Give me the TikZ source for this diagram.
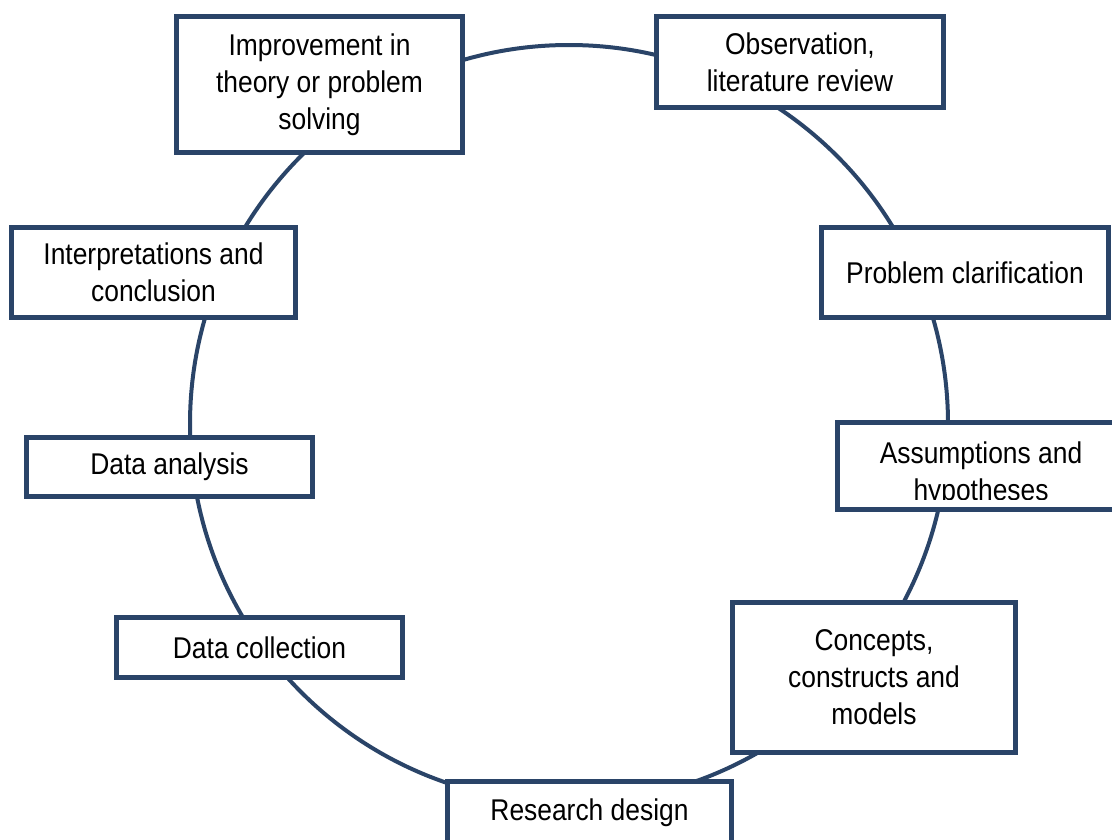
\documentclass[tikz,border=0pt]{standalone}
\usepackage{fontspec}
\setmainfont{Liberation Sans}[FakeStretch=0.88]
\usepackage{tikz}
\definecolor{boxblue}{RGB}{42,68,104}
\tikzset{
	stagebox/.style={draw=boxblue, line width=3.75pt, fill=white, inner sep=0pt, align=center,
		font=\fontsize{22.5}{27.75}\selectfont},
	cycleline/.style={draw=boxblue, line width=3pt}
}

\begin{document}
\begin{tikzpicture}[x=0.75pt, y=-0.75pt]
			%%%%% START %%%%%
			\useasboundingbox (0, 0) rectangle (1112, 839);
			
			\draw[cycleline] (569, 424) circle (379);
			
			\node[stagebox, minimum width=214.5pt, minimum height=102pt] (improve) at (319.5, 84.5) {Improvement in\\theory or problem\\solving};
			\node[stagebox, minimum width=215.25pt, minimum height=68.25pt] (observe) at (800, 62) {Observation,\\literature review};
			\node[stagebox, minimum width=215.25pt, minimum height=67.5pt] (problem) at (965, 272.5) {Problem clarification};
			
			\node[stagebox, minimum width=215.25pt, minimum height=65.25pt] (assume) at (981, 466) {};
			\begin{scope}
				\clip (840, 425) rectangle (1112, 499);
				\node[font=\fontsize{22.5}{27.75}\selectfont, align=center, inner sep=0pt] (assumetext) at (981, 474) {Assumptions and\\hypotheses};
			\end{scope}
			
			\node[stagebox, minimum width=212.25pt, minimum height=112.5pt] (concepts) at (874, 677.5) {Concepts,\\constructs and\\models};
			\node[stagebox, minimum width=213pt, minimum height=46.5pt] (design) at (589.5, 812.5) {Research design};
			
			\node[stagebox, minimum width=214.5pt, minimum height=45pt] (collect) at (259.5, 647.5) {Data collection};
			\node[stagebox, minimum width=214.5pt, minimum height=44.25pt] (analyse) at (169.5, 467) {Data analysis};
			\node[stagebox, minimum width=213pt, minimum height=67.5pt] (interpret) at (153.5, 272.5) {Interpretations and\\conclusion};
			%%%%% END %%%%%
\end{tikzpicture}
\end{document}
